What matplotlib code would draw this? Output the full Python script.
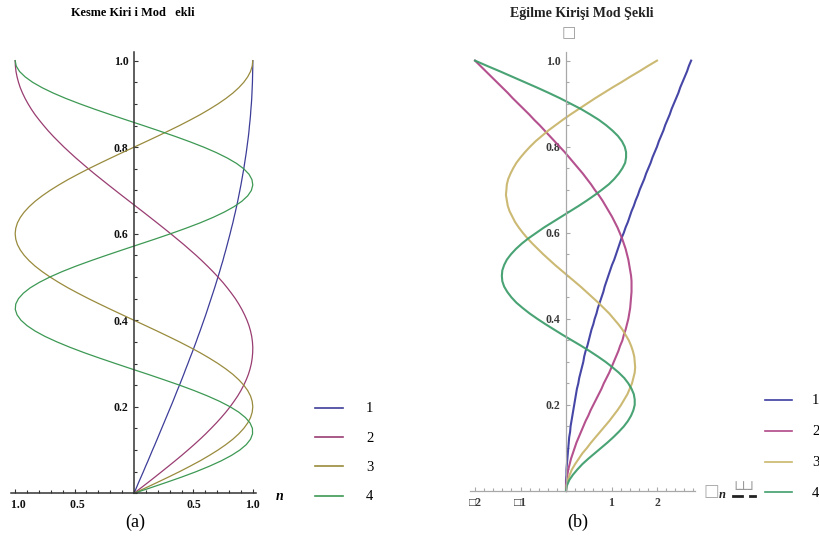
import matplotlib
matplotlib.use("Agg")
import matplotlib.pyplot as plt
from matplotlib.lines import Line2D
from matplotlib.ticker import MultipleLocator, FixedLocator, FixedFormatter

plt.rcParams['font.family'] = ['Liberation Serif', 'DejaVu Sans']

# ---------------- data ----------------
# heights along the beam (shared by both panels)
y_pts = [0.0000, 0.0125, 0.0250, 0.0375, 0.0500, 0.0625, 0.0750, 0.0875, 0.1000, 0.1125,
         0.1250, 0.1375, 0.1500, 0.1625, 0.1750, 0.1875, 0.2000, 0.2125, 0.2250, 0.2375,
         0.2500, 0.2625, 0.2750, 0.2875, 0.3000, 0.3125, 0.3250, 0.3375, 0.3500, 0.3625,
         0.3750, 0.3875, 0.4000, 0.4125, 0.4250, 0.4375, 0.4500, 0.4625, 0.4750, 0.4875,
         0.5000, 0.5125, 0.5250, 0.5375, 0.5500, 0.5625, 0.5750, 0.5875, 0.6000, 0.6125,
         0.6250, 0.6375, 0.6500, 0.6625, 0.6750, 0.6875, 0.7000, 0.7125, 0.7250, 0.7375,
         0.7500, 0.7625, 0.7750, 0.7875, 0.8000, 0.8125, 0.8250, 0.8375, 0.8500, 0.8625,
         0.8750, 0.8875, 0.9000, 0.9125, 0.9250, 0.9375, 0.9500, 0.9625, 0.9750, 0.9875,
         1.0000]

# (a) shear beam mode shapes
shear_mode1 = [0.000, 0.020, 0.039, 0.059, 0.079, 0.098, 0.118, 0.137, 0.156, 0.176,
               0.195, 0.214, 0.233, 0.252, 0.271, 0.290, 0.309, 0.328, 0.346, 0.364,
               0.383, 0.401, 0.419, 0.436, 0.454, 0.471, 0.489, 0.506, 0.523, 0.539,
               0.556, 0.572, 0.588, 0.604, 0.619, 0.634, 0.649, 0.664, 0.679, 0.693,
               0.707, 0.721, 0.734, 0.748, 0.760, 0.773, 0.785, 0.797, 0.809, 0.820,
               0.832, 0.842, 0.853, 0.863, 0.873, 0.882, 0.891, 0.900, 0.908, 0.916,
               0.924, 0.931, 0.938, 0.945, 0.951, 0.957, 0.963, 0.968, 0.972, 0.977,
               0.981, 0.984, 0.988, 0.991, 0.993, 0.995, 0.997, 0.998, 0.999, 1.000,
               1.000]
shear_mode2 = [0.000, 0.059, 0.118, 0.176, 0.233, 0.290, 0.346, 0.401, 0.454, 0.506,
               0.556, 0.604, 0.649, 0.693, 0.734, 0.773, 0.809, 0.842, 0.873, 0.900,
               0.924, 0.945, 0.963, 0.977, 0.988, 0.995, 0.999, 1.000, 0.997, 0.991,
               0.981, 0.968, 0.951, 0.931, 0.908, 0.882, 0.853, 0.820, 0.785, 0.748,
               0.707, 0.664, 0.619, 0.572, 0.523, 0.471, 0.419, 0.364, 0.309, 0.252,
               0.195, 0.137, 0.079, 0.020, -0.039, -0.098, -0.156, -0.214, -0.271, -0.328,
               -0.383, -0.436, -0.489, -0.539, -0.588, -0.634, -0.679, -0.721, -0.760, -0.797,
               -0.832, -0.863, -0.891, -0.916, -0.938, -0.957, -0.972, -0.984, -0.993, -0.998,
               -1.000]
shear_mode3 = [0.000, 0.098, 0.195, 0.290, 0.383, 0.471, 0.556, 0.634, 0.707, 0.773,
               0.832, 0.882, 0.924, 0.957, 0.981, 0.995, 1.000, 0.995, 0.981, 0.957,
               0.924, 0.882, 0.832, 0.773, 0.707, 0.634, 0.556, 0.471, 0.383, 0.290,
               0.195, 0.098, 0.000, -0.098, -0.195, -0.290, -0.383, -0.471, -0.556, -0.634,
               -0.707, -0.773, -0.832, -0.882, -0.924, -0.957, -0.981, -0.995, -1.000, -0.995,
               -0.981, -0.957, -0.924, -0.882, -0.832, -0.773, -0.707, -0.634, -0.556, -0.471,
               -0.383, -0.290, -0.195, -0.098, 0.000, 0.098, 0.195, 0.290, 0.383, 0.471,
               0.556, 0.634, 0.707, 0.773, 0.832, 0.882, 0.924, 0.957, 0.981, 0.995,
               1.000]
shear_mode4 = [0.000, 0.137, 0.271, 0.401, 0.523, 0.634, 0.734, 0.820, 0.891, 0.945,
               0.981, 0.998, 0.997, 0.977, 0.938, 0.882, 0.809, 0.721, 0.619, 0.506,
               0.383, 0.252, 0.118, -0.020, -0.156, -0.290, -0.419, -0.539, -0.649, -0.748,
               -0.832, -0.900, -0.951, -0.984, -0.999, -0.995, -0.972, -0.931, -0.873, -0.797,
               -0.707, -0.604, -0.489, -0.364, -0.233, -0.098, 0.039, 0.176, 0.309, 0.436,
               0.556, 0.664, 0.760, 0.842, 0.908, 0.957, 0.988, 1.000, 0.993, 0.968,
               0.924, 0.863, 0.785, 0.693, 0.588, 0.471, 0.346, 0.214, 0.079, -0.059,
               -0.195, -0.328, -0.454, -0.572, -0.679, -0.773, -0.853, -0.916, -0.963, -0.991,
               -1.000]

# (b) bending beam mode shapes
bend_mode1 = [0.00, 0.00, 0.00, 0.01, 0.01, 0.02, 0.03, 0.04, 0.05, 0.06,
              0.07, 0.09, 0.10, 0.12, 0.14, 0.16, 0.18, 0.20, 0.22, 0.24,
              0.27, 0.29, 0.32, 0.35, 0.38, 0.40, 0.43, 0.47, 0.50, 0.53,
              0.56, 0.60, 0.63, 0.67, 0.70, 0.74, 0.78, 0.82, 0.85, 0.89,
              0.93, 0.97, 1.01, 1.06, 1.10, 1.14, 1.18, 1.22, 1.27, 1.31,
              1.36, 1.40, 1.44, 1.49, 1.53, 1.58, 1.62, 1.67, 1.72, 1.76,
              1.81, 1.86, 1.90, 1.95, 2.00, 2.04, 2.09, 2.14, 2.18, 2.23,
              2.28, 2.32, 2.37, 2.42, 2.47, 2.51, 2.56, 2.61, 2.66, 2.70,
              2.75]
bend_mode2 = [0.00, 0.00, 0.01, 0.03, 0.05, 0.08, 0.11, 0.15, 0.19, 0.23,
              0.28, 0.33, 0.38, 0.43, 0.49, 0.54, 0.60, 0.66, 0.72, 0.78,
              0.83, 0.89, 0.95, 1.00, 1.05, 1.10, 1.15, 1.19, 1.24, 1.27,
              1.31, 1.34, 1.37, 1.39, 1.41, 1.42, 1.43, 1.44, 1.44, 1.44,
              1.43, 1.41, 1.39, 1.37, 1.34, 1.31, 1.27, 1.23, 1.18, 1.13,
              1.07, 1.01, 0.94, 0.87, 0.80, 0.72, 0.63, 0.55, 0.46, 0.37,
              0.27, 0.17, 0.07, -0.03, -0.14, -0.25, -0.36, -0.47, -0.58, -0.70,
              -0.81, -0.93, -1.05, -1.17, -1.28, -1.40, -1.52, -1.64, -1.76, -1.88,
              -2.00]
bend_mode3 = [0.00, 0.01, 0.04, 0.08, 0.13, 0.20, 0.28, 0.36, 0.46, 0.55,
              0.65, 0.75, 0.85, 0.95, 1.04, 1.13, 1.21, 1.28, 1.35, 1.40,
              1.45, 1.48, 1.51, 1.52, 1.51, 1.50, 1.47, 1.43, 1.38, 1.31,
              1.24, 1.15, 1.05, 0.95, 0.83, 0.71, 0.58, 0.45, 0.32, 0.18,
              0.04, -0.10, -0.24, -0.37, -0.50, -0.62, -0.74, -0.85, -0.95, -1.04,
              -1.12, -1.18, -1.24, -1.28, -1.30, -1.32, -1.31, -1.30, -1.27, -1.22,
              -1.16, -1.09, -1.00, -0.90, -0.79, -0.67, -0.53, -0.39, -0.23, -0.07,
              0.10, 0.28, 0.46, 0.64, 0.83, 1.02, 1.22, 1.41, 1.61, 1.80,
              2.00]
bend_mode4 = [0.00, 0.02, 0.07, 0.15, 0.25, 0.36, 0.49, 0.63, 0.77, 0.91,
              1.04, 1.16, 1.27, 1.36, 1.43, 1.48, 1.51, 1.51, 1.49, 1.44,
              1.37, 1.28, 1.16, 1.02, 0.87, 0.70, 0.52, 0.33, 0.13, -0.07,
              -0.26, -0.45, -0.63, -0.80, -0.95, -1.09, -1.20, -1.29, -1.36, -1.40,
              -1.41, -1.40, -1.36, -1.30, -1.21, -1.10, -0.97, -0.82, -0.65, -0.48,
              -0.29, -0.10, 0.09, 0.28, 0.46, 0.63, 0.79, 0.94, 1.06, 1.16,
              1.24, 1.30, 1.32, 1.32, 1.29, 1.23, 1.14, 1.02, 0.88, 0.72,
              0.53, 0.33, 0.10, -0.13, -0.38, -0.64, -0.91, -1.18, -1.45, -1.73,
              -2.00]

mode_labels = ["1", "2", "3", "4"]
a_x_ticks = [-1.0, -0.5, 0.5, 1.0]
a_x_labels = ["  1.0", "  0.5", "0.5", "1.0"]
b_x_ticks = [-2, -1, 1, 2]
b_x_labels = ["\u25a12", "\u25a11", "1", "2"]
y_ticks = [0.2, 0.4, 0.6, 0.8, 1.0]
y_labels = ["0.2", "0.4", "0.6", "0.8", "1.0"]

# ---------------- figure ----------------
W, H = 819, 548
fig = plt.figure(figsize=(W / 100, H / 100), dpi=100)


def fx(px):
    return px / W


def fy(py):
    return 1 - py / H


colors_a = ['#3d3d99', '#993d71', '#998b3d', '#3d9954']
colors_b = ['#3c3ca2', '#b04888', '#c9b66c', '#3f9e6c']


def style_axes(ax, spine_color, label_color, lw):
    for s in ['top', 'right']:
        ax.spines[s].set_visible(False)
    ax.spines['left'].set_position(('data', 0))
    ax.spines['bottom'].set_position(('data', 0))
    for s in ['left', 'bottom']:
        ax.spines[s].set_color(spine_color)
        ax.spines[s].set_linewidth(lw)
    ax.tick_params(which='both', direction='in', color=spine_color, width=0.8,
                   labelcolor=label_color)
    ax.tick_params(which='major', length=3.0)
    ax.tick_params(which='minor', length=2.0)
    ax.tick_params(axis='x', pad=4)
    ax.tick_params(axis='y', pad=4)
    ax.patch.set_visible(False)


# ----- panel (a) -----
axa = fig.add_axes([fx(11), fy(493.3), fx(256) - fx(11), fy(52) - fy(493.3)])
for vals, c in zip([shear_mode1, shear_mode2, shear_mode3, shear_mode4], colors_a):
    axa.plot(vals, y_pts, color=c, lw=0.9, clip_on=False)
axa.set_xlim(-1.035, 1.027)
axa.set_ylim(0, 1.02)
style_axes(axa, '#333333', '#111111', 1.1)
axa.xaxis.set_major_locator(FixedLocator(a_x_ticks))
axa.xaxis.set_major_formatter(FixedFormatter(a_x_labels))
axa.xaxis.set_minor_locator(MultipleLocator(0.1))
axa.yaxis.set_major_locator(FixedLocator(y_ticks))
axa.yaxis.set_major_formatter(FixedFormatter(y_labels))
axa.yaxis.set_minor_locator(MultipleLocator(0.05))
for lab in axa.get_xticklabels() + axa.get_yticklabels():
    lab.set_fontweight('bold')
    lab.set_fontsize(8.5)

fig.text(fx(132.5), fy(13.5), "Kesme Kiri i Mod   ekli", ha='center', va='center',
         fontsize=8.8, fontweight='bold')
fig.text(fx(280), fy(497), "n", ha='center', va='center', fontsize=10,
         fontweight='bold', fontstyle='italic')
fig.text(fx(135), fy(522), "(a)", ha='center', va='center', fontsize=13)

# legend (a)
leg_a_y = [408, 437, 466.3, 495.7]
for lab, c, py in zip(mode_labels, colors_a, leg_a_y):
    fig.add_artist(Line2D([fx(315), fx(343)], [fy(py), fy(py)], color=c, lw=1.2))
    fig.text(fx(366), fy(py + 1), lab, ha='left', va='center', fontsize=10.5)

# ----- panel (b) -----
axb = fig.add_axes([fx(470), fy(491), fx(695) - fx(470), fy(52) - fy(491)])
for vals, c in zip([bend_mode1, bend_mode2, bend_mode3, bend_mode4], colors_b):
    axb.plot(vals, y_pts, color=c, lw=1.5, clip_on=False, alpha=0.95)
axb.set_xlim(-2.11, 2.835)
axb.set_ylim(0, 1.02)
style_axes(axb, '#a8a8a8', '#3a3a3a', 0.9)
axb.xaxis.set_major_locator(FixedLocator(b_x_ticks))
axb.xaxis.set_major_formatter(FixedFormatter(b_x_labels))
axb.xaxis.set_minor_locator(MultipleLocator(0.2))
axb.yaxis.set_major_locator(FixedLocator(y_ticks))
axb.yaxis.set_major_formatter(FixedFormatter(y_labels))
axb.yaxis.set_minor_locator(MultipleLocator(0.05))
for lab in axb.get_xticklabels() + axb.get_yticklabels():
    lab.set_fontweight('bold')
    lab.set_fontsize(8.5)

fig.text(fx(581.5), fy(13), "E\u011filme Kiri\u015fi Mod \u015eekli", ha='center',
         va='center', fontsize=10, fontweight='bold', color='#222222')
fig.text(fx(568.7), fy(32.5), "\u25a1", ha='center', va='center', fontsize=11,
         color='#999999', family='DejaVu Sans')
fig.text(fx(711), fy(491), "\u25a1", ha='center', va='center', fontsize=12,
         color='#aaaaaa', family='DejaVu Sans')
fig.text(fx(722), fy(495), "n", ha='center', va='center', fontsize=9,
         fontweight='bold', fontstyle='italic', color='#222222')
fig.text(fx(744), fy(490), "\u2514\u2534\u2518", ha='center', va='center', fontsize=10,
         color='#999999', family='DejaVu Sans')
fig.add_artist(Line2D([fx(733), fx(742)], [fy(496), fy(496)], color='#222222', lw=2))
fig.add_artist(Line2D([fx(750), fx(755)], [fy(496), fy(496)], color='#222222', lw=2))
fig.text(fx(578), fy(522), "(b)", ha='center', va='center', fontsize=13)

# legend (b)
leg_b_y = [400, 430.7, 461.7, 492.3]
for lab, c, py in zip(mode_labels, colors_b, leg_b_y):
    fig.add_artist(Line2D([fx(765), fx(792)], [fy(py), fy(py)], color=c, lw=1.2))
    fig.text(fx(812), fy(py + 1), lab, ha='left', va='center', fontsize=10.5)

fig.savefig("out.png", dpi=100)
